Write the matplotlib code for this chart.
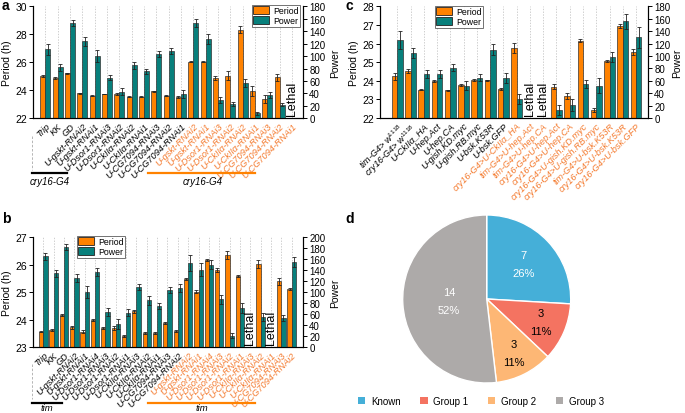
import numpy as np
import matplotlib
matplotlib.use('Agg')
import matplotlib.pyplot as plt
from matplotlib.patches import Patch
from matplotlib.lines import Line2D

plt.rcParams['font.family'] = ['Liberation Sans', 'DejaVu Sans']
plt.rcParams['mathtext.fontset'] = 'custom'
plt.rcParams['mathtext.rm'] = 'Liberation Sans'
plt.rcParams['mathtext.it'] = 'Liberation Sans:italic'

ORANGE = '#FF8200'
TEAL = '#08807C'
LABEL_ORANGE = '#F47A2E'
nan = np.nan

# ---------------- Panel a ----------------
a_labels = ['Trip', 'KK', 'GD', 'U-gskt-RNAi2', 'U-gskt-RNAi1', 'U-Dsor1-RNAi3',
            'U-Dsor1-RNAi2', 'U-CkIIα-RNAi2', 'U-CkIIα-RNAi1', 'U-CG7094-RNAi3',
            'U-CG7094-RNAi2', 'U-CG7094-RNAi1',
            'U-gskt-RNAi2', 'U-gskt-RNAi1', 'U-Dsor1-RNAi3', 'U-Dsor1-RNAi2',
            'U-CkIIα-RNAi2', 'U-CkIIα-RNAi1', 'U-CG7094-RNAi3', 'U-CG7094-RNAi2',
            'U-CG7094-RNAi1']
a_n_black = 12
a_period = [25.02, 24.88, 25.21, 23.79, 23.62, 23.74, 23.74, 23.55, 23.55, 23.93,
            23.62, 23.52, 26.04, 26.04, 24.86, 25.05, 28.33, 23.93, 23.38, 24.93, nan]
a_period_err = [0.1, 0.04, 0.06, 0.05, 0.04, 0.03, 0.08, 0.03, 0.03, 0.05,
                0.03, 0.04, 0.04, 0.05, 0.15, 0.3, 0.25, 0.35, 0.3, 0.25, nan]
a_power = [111, 82, 153, 124, 100, 65, 43, 85, 76, 103, 108, 39,
           153, 127, 29, 23, 57, 8, 38, 22, nan]
a_power_err = [9, 6, 5, 7, 9, 4, 5, 5, 4, 5, 5, 6, 7, 8, 5, 4, 6, 2, 5, 3, nan]

# ---------------- Panel b ----------------
b_labels = ['Trip', 'KK', 'GD', 'U-gskt-RNAi2', 'U-gskt-RNAi1', 'U-Dsor1-RNAi4',
            'U-Dsor1-RNAi3', 'U-Dsor1-RNAi2', 'U-Dsor1-RNAi1', 'U-CkIIα-RNAi3',
            'U-CkIIα-RNAi2', 'U-CkIIα-RNAi1', 'U-CG7094-RNAi3', 'U-CG7094-RNAi2',
            'U-gskt-RNAi2', 'U-gskt-RNAi1', 'U-Dsor1-RNAi4', 'U-Dsor1-RNAi3',
            'U-Dsor1-RNAi2', 'U-Dsor1-RNAi1', 'U-CkIIα-RNAi3', 'U-CkIIα-RNAi2',
            'U-CkIIα-RNAi1', 'U-CG7094-RNAi3', 'U-CG7094-RNAi2']
b_n_black = 14
b_period = [23.57, 23.62, 24.17, 23.73, 23.57, 23.99, 23.70, 23.71, 23.42, 24.31,
            23.53, 23.53, 23.88, 23.59, 25.48, 25.02, 26.17, 25.79, 26.36, 25.58,
            nan, 26.03, nan, 25.39, 25.12]
b_period_err = [0.03, 0.03, 0.03, 0.06, 0.04, 0.04, 0.03, 0.08, 0.03, 0.06,
                0.03, 0.03, 0.05, 0.03, 0.04, 0.04, 0.05, 0.07, 0.15, 0.04,
                nan, 0.15, nan, 0.13, 0.03]
b_power = [165, 134, 182, 126, 100, 137, 64, 42, 63, 109, 85, 75, 104, 107,
           153, 141, 150, 87, 21, 72, nan, 55, nan, 53, 155]
b_power_err = [6, 7, 5, 7, 11, 7, 7, 9, 6, 5, 8, 5, 6, 7,
               14, 12, 8, 8, 5, 9, nan, 8, nan, 5, 9]

# ---------------- Panel c ----------------
c_labels = ['tim-G4> w$^{1118}$', 'cry16-G4> w$^{1118}$', 'U-CkIIα_HA', 'U-hep.Act',
            'U-hep.CA', 'U-gish.KD.myc', 'U-gish.RB.myc', 'U-bsk.K53R', 'U-bsk.GFP',
            'cry16-G4>U-CkIIα_HA', 'tim-G4>U-hep.Act', 'tim-G4>U-hep.CA',
            'cry16-G4>U-hep.Act', 'cry16-G4>U-hep.CA', 'cry16-G4>U-gish.KD.myc',
            'cry16-G4>U-gish.RB.myc', 'tim-G4>U-bsk.K53R', 'cry16-G4>U-bsk.K53R',
            'cry16-G4>U-bsk.GFP']
c_n_black = 9
c_period = [24.24, 24.53, 23.52, 23.99, 23.49, 23.77, 24.04, 24.02, 23.56, 25.76,
            nan, nan, 23.67, 23.18, 26.16, 22.43, 25.06, 26.93, 25.53]
c_period_err = [0.2, 0.1, 0.04, 0.04, 0.04, 0.05, 0.04, 0.04, 0.03, 0.25,
                nan, nan, 0.13, 0.15, 0.1, 0.1, 0.04, 0.1, 0.15]
c_power = [126, 104, 71, 71, 81, 52, 65, 110, 65, 30, nan, nan, 13, 21, 55, 52,
           99, 156, 130]
c_power_err = [15, 8, 6, 6, 6, 7, 6, 9, 8, 8, nan, nan, 8, 9, 6, 12, 8, 12, 17]

# ---------------- Panel d ----------------
d_labels = ['Known', 'Group 1', 'Group 2', 'Group 3']
d_counts = [7, 3, 3, 14]
d_colors = ['#45AFD8', '#F47361', '#FDB775', '#ADAAA9']

W, H = 685, 414
fig = plt.figure(figsize=(W / 100, H / 100), dpi=100)


def rect(l, t, r, b):
    return [l / W, 1 - b / H, (r - l) / W, (b - t) / H]


def ftext(x, y, s, **kw):
    fig.text(x / W, 1 - y / H, s, **kw)


def fline(x0, x1, y, color):
    fig.add_artist(Line2D([x0 / W, x1 / W], [1 - y / H, 1 - y / H], color=color,
                          lw=1.6, transform=fig.transFigure))


def panel(r, labels, n_black, period, period_err, power, power_err,
          ylim, yticks, plim, pticks, xlim, leg_anchor, rpad=3):
    ax = fig.add_axes(rect(*r))
    ax2 = ax.twinx()
    n = len(labels)
    x = np.arange(n)
    w = 0.41
    ymin = ylim[0]
    per = np.array(period, dtype=float)
    pow_ = np.array(power, dtype=float)
    for xi in x:
        ax.axvline(xi, color='#BBBBBB', lw=0.5, ls=(0, (2, 2)), zorder=0)
    ekw = dict(ecolor='#222222', elinewidth=0.6, capsize=1.6, capthick=0.6)
    ax.bar(x - w / 2, per - ymin, bottom=ymin, width=w, color=ORANGE,
           edgecolor='#333333', linewidth=0.5, yerr=period_err, error_kw=ekw, zorder=2)
    ax2.bar(x + w / 2, pow_, width=w, color=TEAL, edgecolor='#333333',
            linewidth=0.5, yerr=power_err, error_kw=ekw, zorder=2)
    for i in x:
        if np.isnan(per[i]):
            ax2.text(i, plim[0] + (plim[1] - plim[0]) * 0.03, 'Lethal', rotation=90,
                     ha='center', va='bottom', fontsize=9, zorder=5)
    ax.set_ylim(*ylim)
    ax.set_yticks(yticks)
    ax2.set_ylim(*plim)
    ax2.set_yticks(pticks)
    ax.set_xlim(*xlim)
    ax.set_xticks(x)
    ax.set_xticklabels(labels, rotation=45, ha='right', va='top',
                       rotation_mode='anchor', fontsize=6.6, style='italic')
    for i, t in enumerate(ax.get_xticklabels()):
        t.set_color('black' if i < n_black else LABEL_ORANGE)
    ax.tick_params(axis='x', length=0, pad=2)
    ax.tick_params(axis='y', labelsize=7.5, length=3, width=0.7, pad=1.5)
    ax2.tick_params(axis='y', labelsize=7, length=3, width=0.7, pad=1.5)
    for a in (ax, ax2):
        a.spines['top'].set_visible(False)
        for s in ('left', 'right', 'bottom'):
            a.spines[s].set_linewidth(0.8)
    ax.set_ylabel('Period (h)', fontsize=7.5, labelpad=2)
    ax2.set_ylabel('Power', fontsize=7.5, labelpad=rpad)
    handles = [Patch(facecolor=ORANGE, edgecolor='#222222', lw=0.6, label='Period'),
               Patch(facecolor=TEAL, edgecolor='#222222', lw=0.6, label='Power')]
    leg = ax2.legend(handles=handles, loc='upper left',
                     bbox_to_anchor=(leg_anchor[0] / W, 1 - leg_anchor[1] / H),
                     bbox_transform=fig.transFigure, fontsize=6.3, frameon=True,
                     fancybox=False, edgecolor='#333333', handlelength=1.8,
                     handleheight=1.0, handletextpad=0.5, borderpad=0.15,
                     labelspacing=0.1, borderaxespad=0)
    leg.get_frame().set_linewidth(0.6)
    return ax, ax2


panel((33, 7.3, 303, 119.3), a_labels, a_n_black, a_period, a_period_err,
      a_power, a_power_err, (22, 30), [22, 24, 26, 28, 30], (0, 180),
      np.arange(0, 181, 20), (-1.0, 20.9), (252, 6))

panel((33, 238, 303, 348.3), b_labels, b_n_black, b_period, b_period_err,
      b_power, b_power_err, (23, 27), [23, 24, 25, 26, 27], (0, 200),
      np.arange(0, 201, 20), (-1.0, 25.1), (77, 237))

panel((380, 7.3, 648, 119), c_labels, c_n_black, c_period, c_period_err,
      c_power, c_power_err, (22, 28), [22, 23, 24, 25, 26, 27, 28], (0, 180),
      np.arange(0, 181, 20), (-1.3, 18.9), (435, 7), rpad=1.5)

# group brackets
fline(32, 66.7, 174.3, 'black')
fline(148, 255, 174.3, ORANGE)
ftext(50, 182, 'cry16-G4', ha='center', va='center', fontsize=7, style='italic')
ftext(203, 182, 'cry16-G4', ha='center', va='center', fontsize=7, style='italic')
fig.add_artist(Line2D([32 / W, 32 / W], [1 - 137 / H, 1 - 171 / H], color='#AAAAAA',
                      lw=0.6, ls=(0, (3, 2)), transform=fig.transFigure))
fline(31.7, 61.7, 403.5, 'black')
fline(148, 255, 403.5, ORANGE)
ftext(47, 408.5, 'tim', ha='center', va='center', fontsize=6.8, style='italic')
ftext(202, 408.5, 'tim', ha='center', va='center', fontsize=6.8, style='italic')
fig.add_artist(Line2D([32 / W, 32 / W], [1 - 365 / H, 1 - 400 / H], color='#AAAAAA',
                      lw=0.6, ls=(0, (3, 2)), transform=fig.transFigure))

# panel letters
for s, (xx, yy) in {'a': (2, 6), 'b': (2, 219), 'c': (345, 6), 'd': (345, 219)}.items():
    ftext(xx, yy, s, ha='left', va='center', fontsize=10, fontweight='bold')

# ---------------- Pie ----------------
axd = fig.add_axes(rect(402.7, 216, 570.7, 384))
wedges, _ = axd.pie(d_counts, colors=d_colors, startangle=90, counterclock=False,
                    radius=1, wedgeprops=dict(edgecolor='white', linewidth=1.0))
axd.set_xlim(-1, 1)
axd.set_ylim(-1, 1)
total = sum(d_counts)
radii = [0.6, 0.7, 0.72, 0.45]
tcolors = ['white', 'black', 'black', 'white']
for wdg, cnt, rr, tc in zip(wedges, d_counts, radii, tcolors):
    ang = np.deg2rad((wdg.theta1 + wdg.theta2) / 2)
    axd.text(rr * np.cos(ang), rr * np.sin(ang),
             f'{cnt}\n{round(100 * cnt / total)}%', ha='center', va='center',
             fontsize=8, color=tc, linespacing=2.0)

fig.legend(handles=[Patch(facecolor=c, edgecolor='none', label=l)
                    for c, l in zip(d_colors, d_labels)],
           loc='center', bbox_to_anchor=(481 / W, 1 - 402 / H), ncol=4,
           frameon=False, fontsize=7, handlelength=0.75, handleheight=0.75,
           columnspacing=2.0, handletextpad=0.6)

fig.savefig('out.png', dpi=100)
